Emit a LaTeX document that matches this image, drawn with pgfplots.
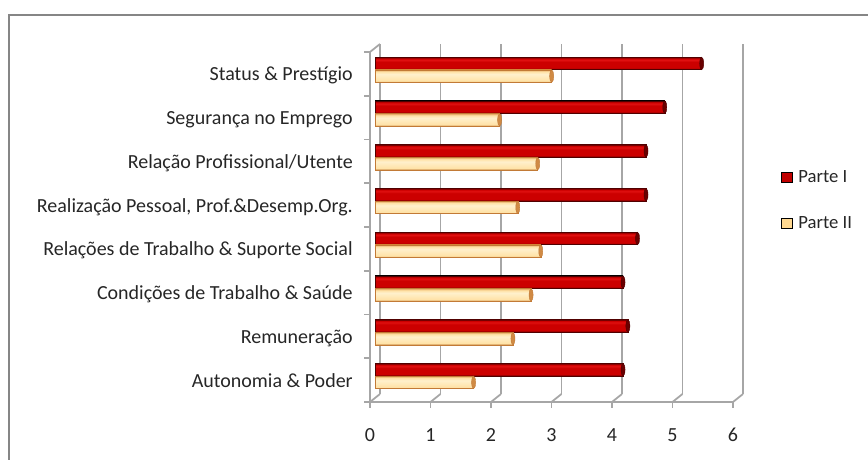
\documentclass[border=0pt]{standalone}
\usepackage{pgfplots}
\pgfplotsset{compat=1.18}
\usepackage{fontspec}
\setmainfont{Carlito}

\definecolor{framegray}{HTML}{868686}
\definecolor{gridgray}{HTML}{A6A6A6}
\definecolor{redtop}{HTML}{5C0000}
\definecolor{redhi}{HTML}{E01010}
\definecolor{redmain}{HTML}{CC0000}
\definecolor{redbot}{HTML}{6E0000}
\definecolor{redline}{HTML}{500000}
\definecolor{redcap}{HTML}{6A0000}
\definecolor{yeltop}{HTML}{E2A45C}
\definecolor{yelhi}{HTML}{FFF0CC}
\definecolor{yelmain}{HTML}{FFE2A6}
\definecolor{yelbot}{HTML}{B8722E}
\definecolor{yelline}{HTML}{C27A36}
\definecolor{yelcap}{HTML}{D08A44}
\definecolor{legred}{HTML}{C00000}
\definecolor{legyel}{HTML}{FFD890}

% cylinder-like vertical shadings (path spans 25bp..75bp)
\pgfdeclareverticalshading{redcyl}{100bp}{color(0bp)=(redbot); color(25bp)=(redbot);
  color(33bp)=(redmain); color(56bp)=(redmain); color(64bp)=(redhi);
  color(70bp)=(redmain); color(75bp)=(redtop); color(100bp)=(redtop)}
\pgfdeclareverticalshading{yelcyl}{100bp}{color(0bp)=(yelbot); color(25bp)=(yelbot);
  color(31bp)=(yelmain); color(58bp)=(yelhi); color(68bp)=(yelmain);
  color(75bp)=(yeltop); color(100bp)=(yeltop)}

\tikzset{
  wall/.style={gridgray, line width=1.3pt},
  back/.style={shift={(3.75pt,3pt)}},
}
\pgfplotsset{
  parteI/.style={forget plot, xbar, bar shift=4.8pt, shade, shading=redcyl, draw=redline, line width=0.4pt},
  parteII/.style={forget plot, xbar, bar shift=-4.7pt, shade, shading=yelcyl, draw=yelline, line width=0.4pt},
  capI/.style={forget plot, only marks, mark=*, mark size=4.7pt,
    mark options={yshift=4.8pt, xscale=0.32, fill=redcap, draw=redline, line width=0.3pt}},
  capII/.style={forget plot, only marks, mark=*, mark size=4.7pt,
    mark options={yshift=-4.7pt, xscale=0.32, fill=yelcap, draw=yelline, line width=0.3pt}},
}

\begin{document}
\begin{tikzpicture}
% page: 868 x 460 px at 0.75pt per px
\path (0pt,0pt) rectangle (651pt,-345pt);
\draw[overlay, framegray, line width=1.5pt] (6.4pt,-11.6pt) rectangle (700pt,-400pt);

\begin{axis}[
  at={(281.25pt,-298.5pt)}, anchor=south west,
  scale only axis, width=272.25pt, height=262.5pt,
  xmin=0, xmax=6, ymin=-0.5, ymax=7.5,
  set layers, clip=false,
  axis line style={draw=none}, tick style={draw=none},
  xtick={0,...,6}, ytick={0,...,7},
  yticklabels={Autonomia \& Poder, Remuneração,
    Condições de Trabalho \& Saúde\hspace{3.5pt},
    Relações de Trabalho \& Suporte Social,
    {Realização Pessoal, Prof.\&Desemp.Org.},
    Relação Profissional/Utente,
    Segurança no Emprego\hspace{1.5pt},
    Status \& Prestígio},
  /pgf/number format/assume math mode=true,
  ticklabel style={font=\fontsize{15}{18}\selectfont, text=black!85},
  xticklabel style={anchor=base, inner sep=0pt, xshift=-3.75pt, yshift=-32.5pt},
  yticklabel style={anchor=base east, inner sep=0pt, xshift=-16.5pt, yshift=-8.2pt},
  bar width=9.4pt,
  legend image code/.code={\fill[#1] (0pt,-3.9pt) rectangle (7.9pt,3.9pt);},
  legend style={at={(1.1185,0.652)}, anchor=north west, draw=none, fill=none,
    inner sep=0pt, row sep=24pt, cells={anchor=west},
    nodes={inner xsep=4.5pt, inner ysep=0pt},
    font=\fontsize{14}{16}\selectfont, text=black!85},
]

% back wall, floor and side wall of the box
\begin{pgfonlayer}{axis background}
  \pgfplotsinvokeforeach{0,...,6}{
    \draw[wall, back] (axis cs:#1,-0.5) -- (axis cs:#1,7.5);
    \draw[wall] (axis cs:#1,-0.5) ++(-3.75pt,-3pt) -- ++(7.5pt,6pt);
    \draw[wall] (axis cs:#1,-0.5) ++(-3.75pt,-3pt) -- ++(0pt,-4.5pt);
  }
  \draw[wall] (axis cs:0,-0.5) ++(-3.75pt,-3pt) -- ++(272.25pt,0pt);
  \draw[wall] (axis cs:0,-0.5) ++(-3.75pt,-3pt) -- ++(0pt,262.5pt) -- ++(7.5pt,6pt);
  \pgfplotsinvokeforeach{-0.5,0.5,1.5,2.5,3.5,4.5,5.5,6.5,7.5}{
    \draw[wall] (axis cs:0,#1) ++(-3.75pt,-3pt) -- ++(-4.5pt,0pt);
  }
\end{pgfonlayer}

% one plot per bar so that each bar gets its own cylinder shading
% Parte I
\addplot[parteI] coordinates {(4.10,0)};
\addplot[parteI] coordinates {(4.18,1)};
\addplot[parteI] coordinates {(4.10,2)};
\addplot[parteI] coordinates {(4.34,3)};
\addplot[parteI] coordinates {(4.48,4)};
\addplot[parteI] coordinates {(4.48,5)};
\addplot[parteI] coordinates {(4.79,6)};
\addplot[parteI] coordinates {(5.40,7)};
% Parte II
\addplot[parteII] coordinates {(1.63,0)};
\addplot[parteII] coordinates {(2.28,1)};
\addplot[parteII] coordinates {(2.58,2)};
\addplot[parteII] coordinates {(2.74,3)};
\addplot[parteII] coordinates {(2.36,4)};
\addplot[parteII] coordinates {(2.69,5)};
\addplot[parteII] coordinates {(2.06,6)};
\addplot[parteII] coordinates {(2.92,7)};
% end caps of the cylinders
\addplot[capI] coordinates {(4.10,0) (4.18,1) (4.10,2) (4.34,3) (4.48,4) (4.48,5) (4.79,6) (5.40,7)};
\addplot[capII] coordinates {(1.63,0) (2.28,1) (2.58,2) (2.74,3) (2.36,4) (2.69,5) (2.06,6) (2.92,7)};

\addlegendimage{fill=legred}
\addlegendentry{Parte I}
\addlegendimage{fill=legyel}
\addlegendentry{Parte II}
\end{axis}
\end{tikzpicture}
\end{document}
